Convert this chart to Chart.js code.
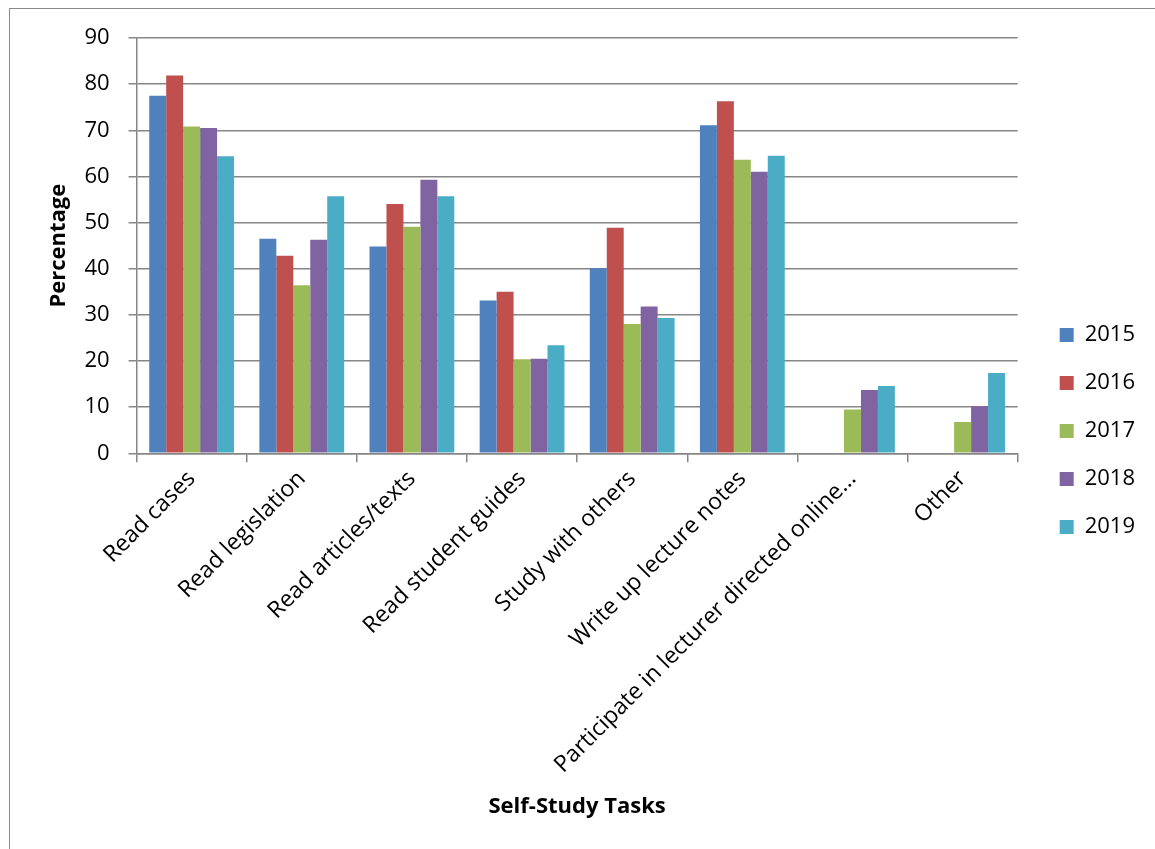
<!DOCTYPE html>
<html>
<head>
<meta charset="utf-8">
<script src="https://cdn.jsdelivr.net/npm/chart.js@4"></script>
<style>
  html, body { margin: 0; padding: 0; background: #fff; overflow: hidden; }
  #frame { position: absolute; left: 9px; top: 8px; width: 1200px; height: 900px; border: 1px solid #8a8a8a; }
  #wrap { position: absolute; left: 0; top: 0; width: 1155px; height: 849px; }
</style>
</head>
<body>
<div id="frame"></div>
<div id="wrap"><canvas id="chart"></canvas></div>
<script>
const tasks = [
  "Read cases",
  "Read legislation",
  "Read articles/texts",
  "Read student guides",
  "Study with others",
  "Write up lecture notes",
  "Participate in lecturer directed online...",
  "Other"
];
const years = ["2015", "2016", "2017", "2018", "2019"];
const y2015 = [77.5, 46.5, 44.8, 33.1, 40.1, 71.1, null, null];
const y2016 = [81.9, 42.8, 54.0, 35.0, 48.9, 76.3, null, null];
const y2017 = [70.8, 36.4, 49.1, 20.4, 28.0, 63.6, 9.5, 6.8];
const y2018 = [70.5, 46.3, 59.3, 20.5, 31.8, 61.0, 13.7, 10.2];
const y2019 = [64.4, 55.7, 55.7, 23.4, 29.3, 64.5, 14.6, 17.4];
const yTicks = [0, 10, 20, 30, 40, 50, 60, 70, 80, 90];

const colors = ["#4F81BD", "#C0504D", "#9BBB59", "#8064A2", "#4BACC6"];
const series = [y2015, y2016, y2017, y2018, y2019];

const FONT = "'Open Sans', 'Liberation Sans', sans-serif";
const axisGrey = "#868686";

new Chart(document.getElementById("chart"), {
  type: "bar",
  data: {
    labels: tasks,
    datasets: series.map((vals, i) => ({
      label: years[i],
      data: vals,
      backgroundColor: colors[i],
      borderWidth: 0,
      categoryPercentage: 0.77,
      barPercentage: 1.0,
    })),
  },
  options: {
    responsive: true,
    maintainAspectRatio: false,
    animation: false,
    layout: {
      padding: { top: 38, left: 46, right: 10, bottom: 25 },
    },
    plugins: {
      tooltip: { enabled: false },
      legend: {
        position: "right",
        labels: {
          font: { family: FONT, size: 22 },
          color: "#000",
          boxWidth: 14,
          boxHeight: 14,
          padding: 26,
        },
      },
    },
    scales: {
      x: {
        grid: {
          display: true,
          drawOnChartArea: false,
          drawTicks: true,
          tickLength: 9,
          color: axisGrey,
          lineWidth: 1.5,
        },
        border: { color: axisGrey, width: 1.5 },
        ticks: {
          font: { family: FONT, size: 23 },
          color: "#000",
          minRotation: 45,
          maxRotation: 45,
          autoSkip: false,
        },
        title: {
          display: true,
          text: "Self-Study Tasks",
          font: { family: FONT, size: 22, weight: "bold" },
          color: "#000",
          padding: { top: 12 },
        },
      },
      y: {
        min: 0,
        max: 90,
        afterBuildTicks: (axis) => {
          axis.ticks = yTicks.map((v) => ({ value: v }));
        },
        grid: {
          color: axisGrey,
          lineWidth: 1.5,
          drawTicks: true,
          tickLength: 8,
        },
        border: { color: axisGrey, width: 1.5 },
        ticks: {
          font: { family: FONT, size: 22 },
          color: "#000",
          padding: 19,
        },
        title: {
          display: true,
          text: "Percentage",
          font: { family: FONT, size: 22, weight: "bold" },
          color: "#000",
          padding: { top: 0, bottom: -7 },
        },
      },
      // empty spacer between the plot and the legend
      gap: {
        type: "linear",
        position: "right",
        display: true,
        grid: { display: false },
        border: { display: false },
        ticks: { display: false },
        afterFit: (scale) => {
          scale.width = 16;
        },
      },
    },
  },
});
</script>
</body>
</html>
